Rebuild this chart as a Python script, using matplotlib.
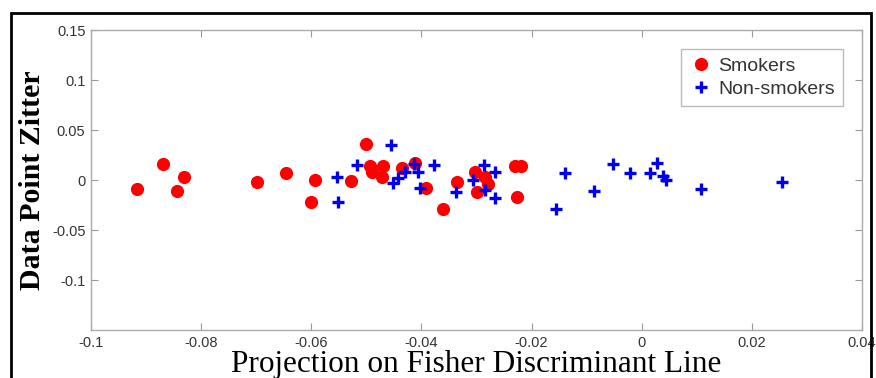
import matplotlib
matplotlib.use('Agg')
import matplotlib.pyplot as plt
from matplotlib.patches import Rectangle

# data
smokers_x = [-0.0917, -0.0870, -0.0832, -0.0843, -0.0699, -0.0646, -0.0594, -0.0600,
             -0.0527, -0.0501, -0.0493, -0.0470, -0.0490, -0.0472, -0.0436, -0.0412,
             -0.0392, -0.0361, -0.0336, -0.0303, -0.0285, -0.0300, -0.0279, -0.0230,
             -0.0219, -0.0226]
smokers_y = [-0.009, 0.016, 0.003, -0.011, -0.002, 0.007, 0.000, -0.022,
             -0.001, 0.036, 0.014, 0.014, 0.008, 0.003, 0.012, 0.017,
             -0.008, -0.029, -0.002, 0.008, 0.003, -0.012, -0.004, 0.014,
             0.014, -0.017]

nonsmokers_x = [-0.0554, -0.0551, -0.0517, -0.0456, -0.0451, -0.0442, -0.0430, -0.0413,
                -0.0407, -0.0403, -0.0378, -0.0337, -0.0307, -0.0286, -0.0266, -0.0284,
                -0.0266, -0.0156, -0.0139, -0.0087, -0.0052, -0.0022, 0.0015, 0.0027,
                0.0039, 0.0044, 0.0107, 0.0254]
nonsmokers_y = [0.003, -0.022, 0.015, 0.035, -0.003, 0.002, 0.008, 0.016,
                0.008, -0.008, 0.015, -0.012, 0.000, 0.015, 0.008, -0.010,
                -0.018, -0.029, 0.007, -0.011, 0.016, 0.007, 0.007, 0.017,
                0.004, 0.000, -0.009, -0.002]

xticks = [-0.1, -0.08, -0.06, -0.04, -0.02, 0, 0.02, 0.04]
xtick_labels = ['-0.1', '-0.08', '-0.06', '-0.04', '-0.02', '0', '0.02', '0.04']
yticks = [-0.1, -0.05, 0, 0.05, 0.1, 0.15]
ytick_labels = ['-0.1', '-0.05', '0', '0.05', '0.1', '0.15']

sans = ['Liberation Sans', 'DejaVu Sans']
serif = ['Liberation Serif', 'DejaVu Serif']

fig = plt.figure(figsize=(8.76, 3.78), dpi=100)
ax = fig.add_axes([91/876, 1 - 330/378, (862 - 91)/876, 300/378])

ax.plot(smokers_x, smokers_y, 'o', color='#ff0000', markersize=9.5,
        markeredgewidth=0, label='Smokers')
ax.plot(nonsmokers_x, nonsmokers_y, '+', color='#0000ee', markersize=9,
        markeredgewidth=2.4, label='Non-smokers')

ax.set_xlim(-0.1, 0.04)
ax.set_ylim(-0.15, 0.15)
ax.set_xticks(xticks)
ax.set_xticklabels(xtick_labels, family=sans, fontsize=10.5, color='#333333')
ax.set_yticks(yticks)
ax.set_yticklabels(ytick_labels, family=sans, fontsize=10.5, color='#333333')
ax.tick_params(direction='in', length=5, width=0.8, color='#999999',
               top=True, right=True, pad=4)
for s in ax.spines.values():
    s.set_color('#aaaaaa')
    s.set_linewidth(1.0)

ax.set_xlabel('Projection on Fisher Discriminant Line', family=serif,
              fontsize=22.5, labelpad=0)
ax.set_ylabel('Data Point Zitter', family=serif, fontsize=21.5,
              fontweight='bold', labelpad=4)

leg = ax.legend(loc='upper right', prop={'family': sans, 'size': 14},
                frameon=True, fancybox=False, borderaxespad=1.0,
                handletextpad=0.3, handlelength=1.2, borderpad=0.4,
                labelspacing=0.3)
leg.get_frame().set_edgecolor('#aaaaaa')
leg.get_frame().set_linewidth(1.0)
for t in leg.get_texts():
    t.set_color('#333333')

# black frame around the figure
fig.patches.append(Rectangle((11/876, -0.1), (871 - 11)/876, 1.1 - 13/378,
                             transform=fig.transFigure, fill=False,
                             edgecolor='black', linewidth=2, clip_on=False))

fig.savefig('out.png', dpi=100)
